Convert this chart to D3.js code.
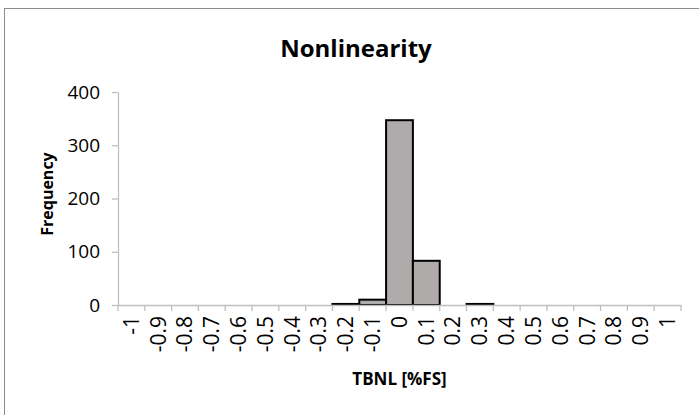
<!DOCTYPE html>
<html>
<head>
<meta charset="utf-8">
<script src="https://cdn.jsdelivr.net/npm/d3@7"></script>
<style>
  body { margin: 0; background: #fff; }
  text { font-family: "Open Sans", sans-serif; fill: #000; }
</style>
</head>
<body>
<div id="container"></div>
<script>
/* CONSTANTS AND GLOBALS */
const width = 699,
  height = 415,
  margin = {top: 92, bottom: 110, left: 118, right: 18};

/* DATA */
const bins = ["-1", "-0.9", "-0.8", "-0.7", "-0.6", "-0.5", "-0.4", "-0.3", "-0.2", "-0.1", "0",
  "0.1", "0.2", "0.3", "0.4", "0.5", "0.6", "0.7", "0.8", "0.9", "1"];
const frequency = [0, 0, 0, 0, 0, 0, 0, 0, 2, 10, 347, 83, 0, 2, 0, 0, 0, 0, 0, 0, 0];
const yTicks = [0, 100, 200, 300, 400];

const data = bins.map((b, i) => ({bin: b, count: frequency[i]}));

// SCALES
const xScale = d3.scaleBand()
  .domain(bins)
  .range([margin.left, width - margin.right])
  .padding(0);

const yScale = d3.scaleLinear()
  .domain([0, 400])
  .range([height - margin.bottom, margin.top]);

// CREATE SVG ELEMENT
const svg = d3.select("#container")
  .append("svg")
  .attr("width", width)
  .attr("height", height);

// chart border
svg.append("rect")
  .attr("x", 4.5)
  .attr("y", 8.5)
  .attr("width", width + 10)
  .attr("height", height + 10)
  .attr("fill", "none")
  .attr("stroke", "#8c8c8c");

// BARS (Excel skips empty bins)
svg.selectAll("rect.bar")
  .data(data.filter(d => d.count > 0))
  .join("rect")
  .attr("class", "bar")
  .attr("x", d => xScale(d.bin))
  .attr("y", d => yScale(d.count))
  .attr("width", xScale.bandwidth())
  .attr("height", d => yScale(0) - yScale(d.count))
  .attr("fill", "#afabab")
  .attr("stroke", "#000")
  .attr("stroke-width", 2);

// AXES
const xAxis = d3.axisBottom(xScale).tickSize(0).tickSizeOuter(0);
const gx = svg.append("g")
  .attr("transform", `translate(0, ${yScale(0)})`)
  .call(xAxis);
gx.select(".domain").attr("stroke", "#bfbfbf").attr("stroke-width", 1.3);
gx.selectAll(".tick text")
  .style("font-size", "21px")
  .attr("transform", "rotate(-90)")
  .attr("text-anchor", "end")
  .attr("x", -11)
  .attr("y", 0)
  .attr("dy", "0.35em");

// tick marks sit on the bin boundaries
gx.selectAll("line.boundary")
  .data(d3.range(bins.length + 1))
  .join("line")
  .attr("class", "boundary")
  .attr("x1", i => margin.left + i * xScale.step())
  .attr("x2", i => margin.left + i * xScale.step())
  .attr("y1", 0)
  .attr("y2", 6)
  .attr("stroke", "#bfbfbf")
  .attr("stroke-width", 1.3);

const yAxis = d3.axisLeft(yScale).tickValues(yTicks).tickSize(6).tickSizeOuter(0);
const gy = svg.append("g")
  .attr("transform", `translate(${margin.left}, 0)`)
  .call(yAxis);
gy.select(".domain").attr("stroke", "#bfbfbf").attr("stroke-width", 1.3);
gy.selectAll(".tick line").attr("stroke", "#bfbfbf").attr("stroke-width", 1.3);
gy.selectAll(".tick text")
  .style("font-size", "19px")
  .attr("x", -18);

// TITLES
svg.append("text")
  .attr("x", 356)
  .attr("y", 57)
  .attr("text-anchor", "middle")
  .style("font-size", "24px")
  .style("font-weight", "bold")
  .text("Nonlinearity");

svg.append("text")
  .attr("transform", `translate(53, 194) rotate(-90)`)
  .attr("text-anchor", "middle")
  .style("font-size", "16px")
  .style("font-weight", "bold")
  .text("Frequency");

svg.append("text")
  .attr("x", (margin.left + width - margin.right) / 2)
  .attr("y", 385)
  .attr("text-anchor", "middle")
  .style("font-size", "17px")
  .style("font-weight", "bold")
  .text("TBNL [%FS]");
</script>
</body>
</html>
